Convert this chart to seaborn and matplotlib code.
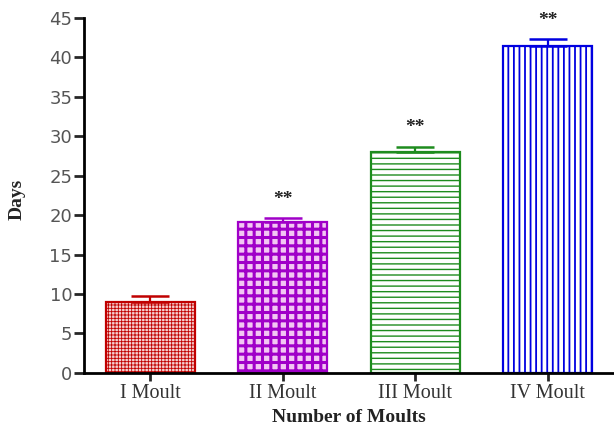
import matplotlib
matplotlib.use("Agg")
import matplotlib.pyplot as plt
import seaborn as sns
import pandas as pd

# Moult stage durations (days), mean with upper error
moults = ["I Moult", "II Moult", "III Moult", "IV Moult"]
days = [9.0, 19.1, 28.0, 41.5]
errors = [0.7, 0.5, 0.7, 0.8]
significance = ["", "**", "**", "**"]

edge_colors = ["#c00000", "#a000c8", "#1e8c1e", "#0000e0"]
face_colors = ["#f6d0d0", "#f3c6f3", "#ffffff", "#ffffff"]
hatches = ["+++++", "++", "---", "|||"]
hatch_widths = [0.6, 2.2, 1.0, 1.3]

sns.set_style("ticks")
df = pd.DataFrame({"Moult": moults, "Days": days})

fig = plt.figure(figsize=(6.14, 4.30), dpi=100)
ax = fig.add_axes([0.137, 0.133, 0.863, 0.825])

sns.barplot(data=df, x="Moult", y="Days", order=moults, width=0.67,
            errorbar=None, color="white", ax=ax)

for patch, ec, fc, h, hw in zip(ax.patches, edge_colors, face_colors, hatches, hatch_widths):
    patch.set_facecolor(fc)
    patch.set_edgecolor(ec)
    patch.set_hatch(h)
    patch.set_linewidth(1.6)
    try:
        patch.set_hatch_linewidth(hw)
    except AttributeError:
        pass

# one-sided error bars with caps
for i, (m, e, c) in enumerate(zip(days, errors, edge_colors)):
    ax.errorbar(i, m, yerr=[[0], [e]], fmt="none", ecolor=c,
                elinewidth=1.6, capsize=14, capthick=1.8, zorder=3)

# significance markers above the bars
for i, (m, e, s) in enumerate(zip(days, errors, significance)):
    if s:
        ax.text(i, m + e + 2.4, s, ha="center", va="center",
                fontsize=14, fontweight="bold", color="#222222",
                family="Liberation Serif", clip_on=False)

ax.set_xlim(-0.5, 3.5)
ax.set_ylim(0, 45)
ax.set_yticks(range(0, 46, 5))

for side in ["top", "right"]:
    ax.spines[side].set_visible(False)
for side in ["left", "bottom"]:
    ax.spines[side].set_linewidth(2.0)
    ax.spines[side].set_color("black")

ax.tick_params(axis="y", length=7, width=2.0, labelsize=13,
               labelcolor="#555555", pad=1.5)
ax.tick_params(axis="x", length=6, width=2.0, labelsize=14.5,
               labelcolor="#333333", pad=2)
for lbl in ax.get_xticklabels():
    lbl.set_family("Liberation Serif")

ax.set_ylabel("Days", fontsize=14, fontweight="bold",
              family="Liberation Serif", va="center")
ax.yaxis.set_label_coords(-0.126, 0.49)
ax.set_xlabel("Number of Moults", fontsize=14, fontweight="bold",
              family="Liberation Serif", va="center", color="#222222")
ax.xaxis.set_label_coords(0.5, -0.127)

fig.savefig("out.png", dpi=100)
